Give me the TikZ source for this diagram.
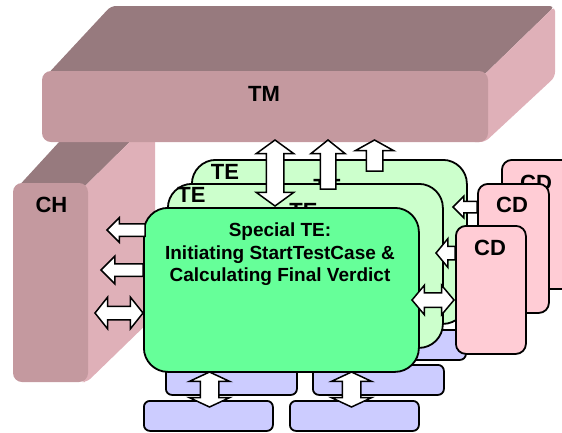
\documentclass[tikz,border=0pt]{standalone}
\usepackage{fontspec}
\setmainfont{Liberation Sans}
\usetikzlibrary{shapes.arrows}
\definecolor{slabtop}{HTML}{977A7E}
\definecolor{slabfront}{HTML}{C4999F}
\definecolor{slabside}{HTML}{DFB0B8}
\definecolor{tefill}{HTML}{CCFFCC}
\definecolor{spfill}{HTML}{66FF99}
\definecolor{cdfill}{HTML}{FFCCD5}
\definecolor{lavfill}{HTML}{CCCCFF}

\begin{document}
\begin{tikzpicture}[x=1pt, y=-1pt,
  lbl/.style={font=\fontsize{22}{26}\selectfont\bfseries, inner sep=0pt},
  tebox/.style={draw, line width=1.8pt, rounded corners=24pt, fill=tefill, anchor=north west, minimum width=275pt, minimum height=164pt, inner sep=0pt},
  cdbox/.style={draw, line width=1.8pt, rounded corners=10pt, fill=cdfill, anchor=north west, minimum width=71pt, minimum height=129pt, inner sep=0pt},
  lavbox/.style={draw, line width=1.8pt, rounded corners=6pt, fill=lavfill, anchor=north west, minimum width=130pt, minimum height=30pt, inner sep=0pt},
  onearr/.style={single arrow, draw, fill=white, line width=1.5pt, inner xsep=0pt, minimum width=0pt, outer sep=0pt, single arrow tip angle=100},
  twoarr/.style={double arrow, draw, fill=white, line width=1.5pt, inner xsep=0pt, minimum width=0pt, outer sep=0pt, double arrow tip angle=100}
]
  \useasboundingbox (0,0) rectangle (562,432);
  \clip (0,0) rectangle (562,432);

  % CH slab
  \fill[slabtop, rounded corners=5pt] (15,190) -- (82,117) -- (155,117) -- (80,191) -- cycle;
  \fill[slabside, rounded corners=5pt] (80,191) -- (155,117) -- (155,316) -- (87,382) -- (80,382) -- cycle;
  \fill[slabfront, rounded corners=9pt] (13,183) rectangle (88,382);
  \node[lbl] (ch) at (51.5,205) {CH};

  % TM slab
  \fill[slabtop, rounded corners=5pt] (44,78) -- (111,6) -- (555,6) -- (470,88.5) -- cycle;
  \fill[slabside, rounded corners=5pt] (470,88.5) -- (555,6) -- (555,77) -- (485,142) -- (470,142) -- cycle;
  \fill[slabfront, rounded corners=9pt] (42,71) rectangle (488,142);
  \node[lbl] (tm) at (264,93.5) {TM};

  % lavender boxes
  \node[lavbox, minimum width=129pt] (lavback) at (336,329) {};
  \node[lavbox, minimum width=131pt] (lavupl) at (165,364) {};
  \node[lavbox, minimum width=131pt] (lavupr) at (312,364) {};
  \node[lavbox, minimum width=129pt] (lavlowl) at (143,400) {};
  \node[lavbox, minimum width=129pt] (lavlowr) at (289,400) {};

  % TE layers
  \node[tebox] (teback) at (191,159) {};
  \node[lbl] (teback-h) at (327.5,187) {TE};
  \node[lbl] (teback-l) at (225,171.5) {TE};
  \node[tebox] (temid) at (167,183) {};
  \node[lbl] (temid-h) at (303.5,211) {TE};
  \node[lbl] (temid-l) at (191.5,195) {TE};
  \node[tebox, fill=spfill] (tesp) at (143,207) {};
  \node[font=\fontsize{19}{22.5}\selectfont\bfseries, align=center, anchor=north, inner sep=0pt] (sptext) at (280,223)
    {Special TE:\\Initiating StartTestCase \&\\Calculating Final Verdict};

  % CD boxes
  \node[cdbox] (cdback) at (501,159) {};
  \node[lbl] (cdback-l) at (536,182.5) {CD};
  \node[cdbox] (cdmid) at (477,183) {};
  \node[lbl] (cdmid-l) at (512,205) {CD};
  \node[cdbox, minimum width=70pt, minimum height=128pt] (cdfront) at (455,225) {};
  \node[lbl] (cdfront-l) at (490,247.5) {CD};

  % TM <-> TE
  \node[twoarr, rotate=90, minimum height=66pt, inner ysep=8pt, double arrow head extend=10pt, double arrow tip angle=108] (tmsp) at (275,173) {};
  \node[onearr, rotate=90, anchor=tail, minimum height=49pt, inner ysep=7pt, single arrow head extend=9.5pt, single arrow tip angle=103] (midtm) at (328,189) {};
  \node[onearr, rotate=90, anchor=tail, minimum height=31pt, inner ysep=7.5pt, single arrow head extend=11pt, single arrow tip angle=122] (backtm) at (374.5,171) {};

  % TE -> CH
  \node[onearr, rotate=180, anchor=tail, minimum height=38pt, inner ysep=5.5pt, single arrow head extend=6pt, single arrow tip angle=90] (spch1) at (145,230) {};
  \node[onearr, rotate=180, anchor=tail, minimum height=42pt, inner ysep=5.5pt, single arrow head extend=7.5pt, single arrow tip angle=90] (spch2) at (143,270) {};
  \node[twoarr, minimum height=48pt, inner ysep=6pt, double arrow head extend=9pt, double arrow tip angle=103] (spch3) at (119,313) {};

  % CD -> TE
  \node[onearr, rotate=180, anchor=tail, minimum height=24pt, inner ysep=5pt, single arrow head extend=5pt, single arrow tip angle=90] (cdmidte) at (477,207) {};
  \node[onearr, rotate=180, anchor=tail, minimum height=19pt, inner ysep=6pt, single arrow head extend=7.5pt, single arrow tip angle=101] (cdfrontte) at (455,253) {};
  \node[twoarr, minimum height=42pt, inner ysep=6.5pt, double arrow head extend=7.5pt] (cdsp) at (433,300) {};

  % TE <-> lower boxes
  \node[twoarr, rotate=90, minimum height=35pt, inner ysep=8.5pt, double arrow head extend=11pt, double arrow tip angle=130] (splav1) at (209.5,389.5) {};
  \node[twoarr, rotate=90, minimum height=35pt, inner ysep=8.5pt, double arrow head extend=11pt, double arrow tip angle=130] (splav2) at (351.5,389.5) {};
\end{tikzpicture}
\end{document}
